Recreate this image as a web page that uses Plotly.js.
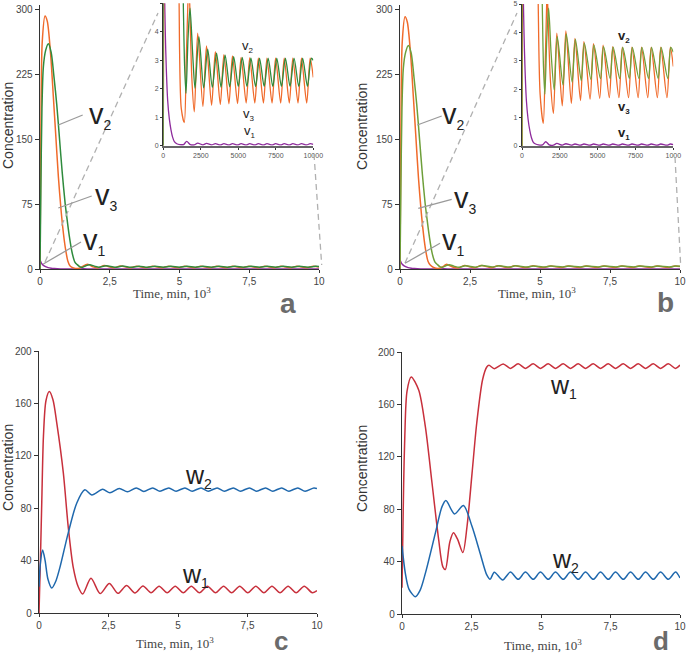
<!DOCTYPE html>
<html><head><meta charset="utf-8">
<script src="https://cdn.plot.ly/plotly-3.0.1.min.js"></script>
<style>html,body{margin:0;padding:0;background:#fff}#chart{width:687px;height:658px}</style>
</head><body><div id="chart"></div>
<script>
// ---------------- DATA ----------------
// Panel a (time in minutes, value)
const aV1 = [[0,10.4],[40,7.5],[80,5.5],[134,3.95],[200,2.7],[290,1.6],[400,0.95],[515,0.55],[620,0.3],[738,0.14],[900,0.07],[1100,0.04],[1350,0.04],[1560,0.15],[1800,0.04],[2068,0.03],[2293,0.09],[2640,0.03],[2880,0.08],[3220,0.03],[3470,0.07],[3800,0.03],[4040,0.07],[4375,0.03],[4610,0.07],[4950,0.03],[5185,0.07],[5525,0.03],[5760,0.07],[6100,0.03],[6335,0.07],[6675,0.03],[6910,0.07],[7250,0.03],[7485,0.07],[7825,0.03],[8060,0.07],[8400,0.03],[8635,0.07],[8980,0.03],[9210,0.07],[9560,0.03],[9790,0.07],[10000,0.05]];
const aV2 = [[0,0],[30,90],[70,185],[120,233],[200,252],[300,260],[400,250],[500,222],[600,190],[700,150],[800,110],[900,76],[960,60],[1050,38],[1150,19],[1250,8],[1334,5],[1420,2.8],[1514,1.84],[1650,3.8],[1781,4.83],[1950,3.3],[2114,2.02],[2373,3.83],[2690,2.03],[2960,3.39],[3270,2.05],[3550,3.25],[3850,2.06],[4120,3.18],[4425,2.07],[4690,3.13],[5000,2.08],[5265,3.1],[5575,2.08],[5840,3.08],[6150,2.08],[6415,3.07],[6725,2.08],[6990,3.07],[7300,2.08],[7565,3.07],[7875,2.08],[8140,3.07],[8450,2.08],[8715,3.07],[9030,2.08],[9290,3.07],[9610,2.08],[9870,3.07],[10000,3.0]];
const aV3 = [[0,0],[30,150],[80,262],[180,292],[260,286],[380,248],[480,198],[560,157],[660,106],[760,66],[840,41],[920,22],[1000,9],[1080,3.5],[1200,1.3],[1400,0.81],[1530,3.0],[1640,5.0],[1700,5.6],[1760,5.0],[1900,2.4],[2068,1.19],[2293,3.95],[2640,1.38],[2880,3.5],[3220,1.42],[3470,3.3],[3800,1.45],[4040,3.2],[4375,1.47],[4610,3.15],[4950,1.48],[5185,3.1],[5525,1.5],[5760,3.08],[6100,1.5],[6335,3.07],[6675,1.5],[6910,3.07],[7250,1.5],[7485,3.07],[7825,1.5],[8060,3.07],[8400,1.5],[8635,3.07],[8980,1.5],[9210,3.07],[9560,1.5],[9790,3.07],[10000,2.4]];

// Panel b (time in minutes, value)
const bV1 = [[0,10.4],[40,7.5],[80,5.5],[134,3.95],[200,2.7],[290,1.6],[400,0.95],[515,0.55],[620,0.3],[738,0.14],[900,0.07],[1100,0.04],[1350,0.04],[1570,0.15],[1800,0.04],[2077,0.03],[2302,0.09],[2660,0.03],[2900,0.08],[3262,0.03],[3500,0.07],[3866,0.03],[4091,0.07],[4501,0.03],[4726,0.07],[5136,0.03],[5361,0.07],[5771,0.03],[5996,0.07],[6406,0.03],[6631,0.07],[7041,0.03],[7266,0.07],[7676,0.03],[7901,0.07],[8311,0.03],[8536,0.07],[8946,0.03],[9171,0.07],[9581,0.03],[9806,0.07],[10000,0.05]];
const bV2 = [[0,0],[30,90],[70,185],[120,232],[200,250],[300,258],[400,249],[500,221],[600,189],[700,149],[800,109],[900,75],[960,59],[1050,37],[1150,18],[1250,8],[1340,5],[1420,2.8],[1510,1.82],[1640,3.8],[1760,4.85],[1920,3.3],[2127,1.97],[2332,3.85],[2710,2.15],[2930,3.95],[3312,2.25],[3530,3.75],[3916,2.3],[4121,3.62],[4551,2.35],[4756,3.55],[5186,2.37],[5391,3.5],[5821,2.38],[6026,3.48],[6456,2.38],[6661,3.47],[7091,2.38],[7296,3.47],[7726,2.38],[7931,3.47],[8361,2.38],[8566,3.47],[8996,2.38],[9201,3.47],[9631,2.38],[9836,3.47],[10000,3.3]];
const bV3 = [[0,0],[30,150],[80,262],[180,291],[260,285],[380,247],[480,197],[560,156],[660,105],[760,65],[840,40],[920,21],[1000,9],[1072,5],[1200,1.8],[1407,0.8],[1530,2.8],[1630,5.0],[1665,5.5],[1697,5.0],[1880,2.3],[2077,1.15],[2302,3.97],[2660,1.41],[2900,4.05],[3262,1.5],[3500,3.79],[3866,1.6],[4091,3.67],[4501,1.65],[4726,3.6],[5136,1.68],[5361,3.55],[5771,1.7],[5996,3.5],[6406,1.7],[6631,3.48],[7041,1.7],[7266,3.48],[7676,1.7],[7901,3.48],[8311,1.7],[8536,3.48],[8946,1.7],[9171,3.48],[9581,1.7],[9806,3.48],[10000,2.8]];

// Panel c (time in 10^3 min, value)
const cW1 = [[0,0],[0.05,40],[0.1,85],[0.16,135],[0.25,162],[0.37,169],[0.5,163],[0.64,145],[0.875,107],[1.05,66],[1.23,35],[1.41,20],[1.57,14.5],[1.87,26.5],[2.2,14.8],[2.53,22.6],[2.84,15],[3.15,21],[3.45,15.3],[3.74,20.7],[4.03,15.5],[4.32,20.5],[4.61,15.5],[4.9,20.5],[5.19,15.5],[5.48,20.5],[5.77,15.5],[6.06,20.5],[6.35,15.5],[6.64,20.5],[6.93,15.5],[7.22,20.5],[7.51,15.5],[7.8,20.5],[8.09,15.5],[8.38,20.5],[8.67,15.5],[8.96,20.5],[9.25,15.5],[9.54,20.5],[9.83,15.5],[10,17]];
const cW2 = [[0,20],[0.05,38],[0.13,48],[0.22,40],[0.32,26],[0.46,19],[0.6,24],[0.755,35],[1.05,61],[1.36,84],[1.65,94],[1.9,90],[2.29,94.4],[2.55,91.8],[2.89,95],[3.18,92.5],[3.5,95.5],[3.77,92.8],[4.09,95.5],[4.35,93],[4.67,95.5],[4.93,93],[5.25,95.5],[5.51,93],[5.83,95.5],[6.09,93],[6.41,95.5],[6.67,93],[6.99,95.5],[7.25,93],[7.57,95.5],[7.83,93],[8.15,95.5],[8.41,93],[8.73,95.5],[8.99,93],[9.31,95.5],[9.57,93],[9.89,95.5],[10,95]];

// Panel d (time in 10^3 min, value)
const dW1 = [[0,20],[0.03,60],[0.06,100],[0.1,135],[0.18,170],[0.33,181],[0.6,171],[0.84,143],[1.08,100],[1.32,56.6],[1.47,36],[1.56,34],[1.72,55],[1.85,62],[2.0,57],[2.19,46.9],[2.34,67],[2.52,107.5],[2.69,146],[2.9,179],[3.05,188.5],[3.13,189.8],[3.32,187.3],[3.64,190.9],[3.9,187.5],[4.18,191],[4.44,187.5],[4.72,191],[4.98,187.5],[5.26,191],[5.52,187.5],[5.8,191],[6.06,187.5],[6.34,191],[6.6,187.5],[6.88,191],[7.14,187.5],[7.42,191],[7.68,187.5],[7.96,191],[8.22,187.5],[8.5,191],[8.76,187.5],[9.04,191],[9.3,187.5],[9.58,191],[9.84,187.5],[10,190]];
const dW2 = [[0,52],[0.12,31],[0.25,19],[0.48,13.2],[0.65,18],[0.84,31],[1.2,61.7],[1.44,82],[1.58,86.6],[1.89,76.4],[2.21,82.8],[2.52,66.7],[2.81,46.4],[3.05,29.8],[3.17,26.5],[3.32,31.9],[3.62,26],[3.9,32],[4.18,26.5],[4.44,32],[4.72,26.5],[4.98,32],[5.26,26.5],[5.52,32],[5.8,26.5],[6.06,32],[6.34,26.5],[6.6,32],[6.88,26.5],[7.14,32],[7.42,26.5],[7.68,32],[7.96,26.5],[8.22,32],[8.5,26.5],[8.76,32],[9.04,26.5],[9.3,32],[9.58,26.5],[9.84,32],[10,27.5]];

// Tick labels
const mainTimeTicks = [0, 2500, 5000, 7500, 10000];
const mainTimeText = ['0', '2,5', '5', '7,5', '10'];
const cdTimeTicks = [0, 2.5, 5, 7.5, 10];
const vTicks = [0, 75, 150, 225, 300];
const wTicks = [0, 40, 80, 120, 160, 200];
const insetXTicks = [0, 2500, 5000, 7500, 10000];
const insetXTextA = ['0', '2500', '5000', '7500', '10000'];
const insetXTextB = ['0', '2500', '5000', '7500', '1000'];
const insetYTicks = [0, 1, 2, 3, 4, 5];

// ---------------- CHART ----------------
const W = 687, H = 658;
const PX = x => x / W;
const PY = y => 1 - y / H;

const C = {v1:'#8e2b9c', v2a:'#2f8b3d', v2b:'#6e9f3a', v3:'#f06a2a', w1:'#c8303c', w2:'#1f68ad'};

function tr(pairs, color, xa, ya, width) {
  return {x: pairs.map(p => p[0]), y: pairs.map(p => p[1]), mode: 'lines',
    line: {color: color, width: width || 1.5, shape: 'spline', smoothing: 0.8},
    xaxis: xa, yaxis: ya, hoverinfo: 'skip', showlegend: false};
}

const traces = [
  tr(aV1, C.v1, 'x', 'y'), tr(aV3, C.v3, 'x', 'y'), tr(aV2, C.v2a, 'x', 'y'),
  tr(bV1, C.v1, 'x2', 'y2'), tr(bV3, C.v3, 'x2', 'y2'), tr(bV2, C.v2b, 'x2', 'y2'),
  tr(cW1, C.w1, 'x3', 'y3'), tr(cW2, C.w2, 'x3', 'y3'),
  tr(dW1, C.w1, 'x4', 'y4'), tr(dW2, C.w2, 'x4', 'y4'),
  tr(aV1, C.v1, 'x5', 'y5', 1.3), tr(aV3, C.v3, 'x5', 'y5', 1.3), tr(aV2, C.v2a, 'x5', 'y5', 1.3),
  tr(bV1, C.v1, 'x6', 'y6', 1.3), tr(bV3, C.v3, 'x6', 'y6', 1.3), tr(bV2, C.v2b, 'x6', 'y6', 1.3)
];

const tickFont = {family: 'Liberation Sans, Arial', size: 10, color: '#444'};
const insetFont = {family: 'Liberation Sans, Arial', size: 7, color: '#555'};

function xa(domain, range, vals, text, anchor, font, tl) {
  return {domain: domain, range: range, tickvals: vals, ticktext: text, anchor: anchor,
    showline: true, linecolor: '#333', linewidth: 1.3, ticks: 'outside', ticklen: tl, tickcolor: '#333',
    tickfont: font, showgrid: false, zeroline: false, fixedrange: true};
}
function ya(domain, range, vals, anchor, font, tl) {
  return {domain: domain, range: range, tickvals: vals, ticktext: vals.map(String), anchor: anchor,
    showline: true, linecolor: '#333', linewidth: 1.3, ticks: 'outside', ticklen: tl, tickcolor: '#333',
    tickfont: font, showgrid: false, zeroline: false, fixedrange: true};
}

const layout = {
  width: W, height: H, margin: {l: 0, r: 0, t: 0, b: 0},
  paper_bgcolor: '#fff', plot_bgcolor: 'rgba(0,0,0,0)', showlegend: false,
  font: {family: 'Liberation Sans, Arial', color: '#444'},
  xaxis:  xa([PX(40), PX(319)], [0, 10000], mainTimeTicks, mainTimeText, 'y', tickFont, 3),
  yaxis:  ya([PY(269), PY(4.7)], [0, 305], vTicks, 'x', tickFont, 4),
  xaxis2: xa([PX(400), PX(680)], [0, 10000], mainTimeTicks, mainTimeText, 'y2', tickFont, 3),
  yaxis2: ya([PY(269), PY(4.7)], [0, 305], vTicks, 'x2', tickFont, 4),
  xaxis3: xa([PX(39), PX(317)], [0, 10], cdTimeTicks, mainTimeText, 'y3', tickFont, 3),
  yaxis3: ya([PY(613), PY(351)], [0, 200], wTicks, 'x3', tickFont, 4),
  xaxis4: xa([PX(402), PX(680)], [0, 10], cdTimeTicks, mainTimeText, 'y4', tickFont, 3),
  yaxis4: ya([PY(614), PY(352)], [0, 200], wTicks, 'x4', tickFont, 4),
  xaxis5: xa([PX(163.3), PX(313.3)], [0, 10000], insetXTicks, insetXTextA, 'y5', insetFont, 2),
  yaxis5: ya([PY(145.7), PY(3.3)], [0, 5], insetYTicks, 'x5', insetFont, 2),
  xaxis6: xa([PX(522), PX(673.3)], [0, 10000], insetXTicks, insetXTextB, 'y6', insetFont, 2),
  yaxis6: ya([PY(146), PY(4)], [0, 5], insetYTicks, 'x6', insetFont, 2),
  shapes: [],
  annotations: []
};
layout.xaxis5.linecolor = '#666'; layout.xaxis5.linewidth = 2;
layout.xaxis6.linecolor = '#666'; layout.xaxis6.linewidth = 2;

function seg(x0, y0, x1, y1, color, dash, w) {
  layout.shapes.push({type: 'line', xref: 'paper', yref: 'paper', x0: PX(x0), y0: PY(y0), x1: PX(x1), y1: PY(y1),
    line: {color: color, width: w || 1.3, dash: dash || 'solid'}});
}
function txt(text, x, y, opts) {
  const o = opts || {};
  layout.annotations.push(Object.assign({xref: 'paper', yref: 'paper', x: PX(x), y: PY(y), text: text,
    showarrow: false, xanchor: 'center', yanchor: 'middle'}, o));
}

// dashed zoom guides
seg(45, 262, 158, 13, '#b0b0b0', '6px,4px', 1.3);
seg(314, 154, 321.7, 265, '#b0b0b0', '6px,4px', 1.3);
seg(405, 263, 517, 13, '#b0b0b0', '6px,4px', 1.3);
seg(675, 157, 680.7, 266, '#b0b0b0', '6px,4px', 1.3);
// leader lines
seg(82.7, 115, 58.3, 125, '#9a9a9a'); seg(91.7, 196, 58.3, 208, '#9a9a9a'); seg(81, 242, 43.3, 264, '#9a9a9a');
seg(441.7, 116, 417.3, 125, '#9a9a9a'); seg(451.7, 199.3, 418.3, 208.3, '#9a9a9a'); seg(440, 243.3, 405, 263.3, '#9a9a9a');

const bigV = {family: 'Liberation Sans, Arial', size: 29, color: '#222'};
const sub = n => '<sub><span style="font-size:14px">' + n + '</span></sub>';
txt('v' + sub(2), 87, 115, {xanchor: 'left', font: bigV});
txt('v' + sub(3), 93, 196, {xanchor: 'left', font: bigV});
txt('v' + sub(1), 81, 241, {xanchor: 'left', font: bigV});
txt('v' + sub(2), 440, 115, {xanchor: 'left', font: bigV});
txt('v' + sub(3), 452, 199, {xanchor: 'left', font: bigV});
txt('v' + sub(1), 440, 241, {xanchor: 'left', font: bigV});

const smallV = {family: 'Liberation Sans, Arial', size: 13, color: '#222'};
const ssub = n => '<sub><span style="font-size:8px">' + n + '</span></sub>';
txt('v' + ssub(2), 240, 47, {xanchor: 'left', font: smallV});
txt('v' + ssub(3), 241, 114, {xanchor: 'left', font: smallV});
txt('v' + ssub(1), 242, 131, {xanchor: 'left', font: smallV});
txt('<b>v' + ssub(2) + '</b>', 616, 37, {xanchor: 'left', font: smallV});
txt('<b>v' + ssub(3) + '</b>', 616, 107, {xanchor: 'left', font: smallV});
txt('<b>v' + ssub(1) + '</b>', 616, 133, {xanchor: 'left', font: smallV});

const bigW = {family: 'Liberation Sans, Arial', size: 25, color: '#222'};
const wsub = n => '<sub><span style="font-size:14px">' + n + '</span></sub>';
txt('w' + wsub(2), 183, 476, {xanchor: 'left', font: bigW});
txt('w' + wsub(1), 180, 575, {xanchor: 'left', font: bigW});
txt('w' + wsub(1), 548, 386, {xanchor: 'left', font: bigW});
txt('w' + wsub(2), 550, 560, {xanchor: 'left', font: bigW});

// axis titles
const serif = {family: 'Liberation Serif, Times New Roman', size: 13, color: '#444'};
const timeTitle = 'Time, min, 10<sup>3</sup>';
txt(timeTitle, 172, 293, {font: serif});
txt(timeTitle, 537, 293, {font: serif});
txt(timeTitle, 175, 643, {font: serif});
txt(timeTitle, 543, 645, {font: serif});
const conc = {family: 'Liberation Sans, Arial', size: 14, color: '#333'};
txt('Concentration', 8, 126, {textangle: -90, font: conc});
txt('Concentration', 362, 127, {textangle: -90, font: conc});
txt('Concentration', 8, 468, {textangle: -90, font: conc});
txt('Concentration', 362, 469, {textangle: -90, font: conc});

// panel letters
const letter = {family: 'Liberation Sans, Arial', size: 28, color: '#6b6b6b'};
const letterSm = {family: 'Liberation Sans, Arial', size: 26, color: '#6b6b6b'};
txt('<b>a</b>', 288, 303, {font: letter});
txt('<b>b</b>', 665, 302, {font: letter});
txt('<b>c</b>', 281, 658, {font: letterSm, yanchor: 'bottom'});
txt('<b>d</b>', 661, 658, {font: letterSm, yanchor: 'bottom'});

Plotly.newPlot('chart', traces, layout, {staticPlot: true, displayModeBar: false});
</script></body></html>
